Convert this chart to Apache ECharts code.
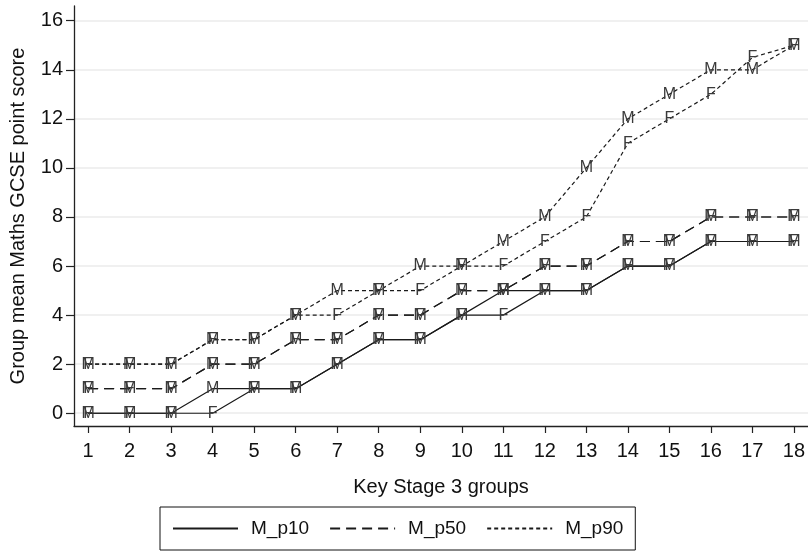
<!DOCTYPE html>
<html>
<head>
<meta charset="utf-8">
<script src="https://cdn.jsdelivr.net/npm/echarts@6/dist/echarts.min.js"></script>
<style>html,body{margin:0;padding:0;background:#fff}#c{width:808px;height:554px}</style>
</head>
<body>
<div id="c"></div>
<script>
var groups = [1,2,3,4,5,6,7,8,9,10,11,12,13,14,15,16,17,18];
var M_p10 = [0,0,0,1,1,1,2,3,3,4,5,5,5,6,6,7,7,7];
var F_p10 = [0,0,0,0,1,1,2,3,3,4,4,5,5,6,6,7,7,7];
var M_p50 = [1,1,1,2,2,3,3,4,4,5,5,6,6,7,7,8,8,8];
var F_p50 = [1,1,1,2,2,3,3,4,4,5,5,6,6,7,7,8,8,8];
var M_p90 = [2,2,2,3,3,4,5,5,6,6,7,8,10,12,13,14,14,15];
var F_p90 = [2,2,2,3,3,4,4,5,5,6,6,7,8,11,12,13,14.5,15];
var yTicks = [0,2,4,6,8,10,12,14,16];
var legendNames = ['M_p10','M_p50','M_p90'];

var FONT = 'Liberation Sans, Arial, sans-serif';
function pairs(vals){ return groups.map(function(g,i){ return [g, vals[i]]; }); }
function mk(name, vals, letter, dash){
  return {
    name: name, type: 'line', data: pairs(vals),
    symbol: 'rect', symbolSize: 1,
    itemStyle: {color: 'rgba(0,0,0,0)'},
    lineStyle: {color: '#1a1a1a', width: 1.2, type: dash},
    label: {show: true, position: 'inside', formatter: letter,
      fontFamily: FONT, fontSize: 16, color: '#3a3a3a'},
    emphasis: {disabled: true}, animation: false, silent: true
  };
}
var chart = echarts.init(document.getElementById('c'), null, {renderer: 'canvas'});
chart.setOption({
  animation: false,
  backgroundColor: '#fff',
  grid: {left: 73, right: 0, top: 6, bottom: 128, containLabel: false},
  legend: {
    data: legendNames, left: 160, top: 507, orient: 'horizontal',
    padding: [12, 12, 12, 12], itemGap: 20, itemWidth: 65, itemHeight: 16,
    borderColor: '#111', borderWidth: 1,
    textStyle: {fontFamily: FONT, fontSize: 19, color: '#111', padding: [0,0,0,8]},
    selectedMode: false
  },
  xAxis: {
    type: 'value', min: 0.66, max: 18.34,
    name: 'Key Stage 3 groups', nameLocation: 'middle', nameGap: 51,
    nameTextStyle: {fontFamily: FONT, fontSize: 20, color: '#111'},
    axisLine: {show: true, onZero: false, lineStyle: {color: '#222', width: 1.3}},
    axisTick: {show: true, length: 7, customValues: groups, lineStyle: {color: '#222', width: 1.2}},
    axisLabel: {customValues: groups, margin: 15, fontFamily: FONT, fontSize: 20, color: '#111'},
    splitLine: {show: false}
  },
  yAxis: {
    type: 'value', min: -0.52, max: 16.6,
    name: 'Group mean Maths GCSE point score', nameLocation: 'middle', nameGap: 46,
    nameTextStyle: {fontFamily: FONT, fontSize: 20, color: '#111'},
    axisLine: {show: true, onZero: false, lineStyle: {color: '#222', width: 1.3}},
    axisTick: {show: true, length: 8, customValues: yTicks, lineStyle: {color: '#222', width: 1.2}},
    axisLabel: {customValues: yTicks, margin: 11, fontFamily: FONT, fontSize: 20, color: '#111'},
    splitLine: {show: true, lineStyle: {color: '#ebebeb', width: 1.5}}
  },
  series: [
    mk('M_p10', M_p10, 'M', 'solid'),
    mk('F_p10', F_p10, 'F', 'solid'),
    mk('M_p50', M_p50, 'M', [10, 6]),
    mk('F_p50', F_p50, 'F', [10, 6]),
    mk('M_p90', M_p90, 'M', [4, 3]),
    mk('F_p90', F_p90, 'F', [4, 3])
  ]
});
</script>
</body>
</html>
